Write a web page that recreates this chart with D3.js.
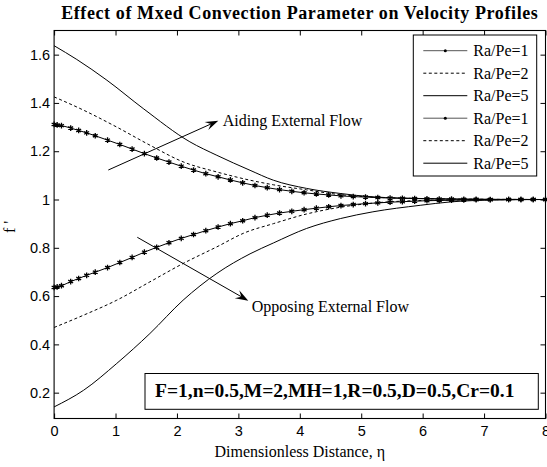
<!DOCTYPE html>
<html>
<head>
<meta charset="utf-8">
<script src="https://cdn.jsdelivr.net/npm/d3@7"></script>
<style>
  body { margin: 0; background: #fff; }
  svg { display: block; }
</style>
</head>
<body>
<svg id="chart" width="547" height="467"></svg>
<script>
// values
var etaMesh = [0, 0.05, 0.12, 0.27, 0.4, 0.53, 0.67, 0.87, 1.07, 1.27, 1.47, 1.67, 1.87, 2.07,
  2.27, 2.47, 2.67, 2.87, 3.07, 3.27, 3.47, 3.67, 3.87, 4.07, 4.27, 4.47, 4.67, 4.87, 5.07,
  5.27, 5.47, 5.67, 5.87, 6.07, 6.27, 6.47, 6.67, 6.87, 7.1, 7.4, 7.6, 7.8, 8.0];
var aidRa1 = [1.311, 1.309, 1.306, 1.296, 1.286, 1.276, 1.264, 1.246, 1.228, 1.209, 1.190, 1.172,
  1.155, 1.138, 1.122, 1.107, 1.094, 1.081, 1.069, 1.058, 1.049, 1.041, 1.034, 1.028, 1.023,
  1.019, 1.015, 1.012, 1.010, 1.008, 1.006, 1.005, 1.004, 1.003, 1.002, 1.002, 1.001, 1.001,
  1.000, 1.000, 1.000, 1.000, 1.000];
var oppRa1 = [0.636, 0.638, 0.643, 0.660, 0.673, 0.686, 0.699, 0.718, 0.739, 0.760, 0.782, 0.802,
  0.821, 0.839, 0.855, 0.871, 0.886, 0.900, 0.912, 0.925, 0.935, 0.944, 0.951, 0.958, 0.964,
  0.970, 0.975, 0.979, 0.983, 0.986, 0.989, 0.991, 0.993, 0.995, 0.996, 0.997, 0.998, 0.999,
  0.999, 1.000, 1.000, 1.000, 1.000];

var etaAidRa2 = [0, 0.48, 1.02, 1.56, 2.10, 2.65, 3.19, 3.57, 4.11, 4.66, 5.19, 6, 7, 8];
var aidRa2 = [1.425, 1.370, 1.300, 1.225, 1.156, 1.114, 1.080, 1.061, 1.040, 1.020, 1.010, 1.004, 1.001, 1.0];
var etaAidRa5 = [0, 0.37, 0.86, 1.45, 2.21, 2.65, 3.19, 3.57, 4.11, 4.66, 5.19, 6, 7, 8];
var aidRa5 = [1.637, 1.580, 1.494, 1.377, 1.239, 1.183, 1.121, 1.080, 1.046, 1.025, 1.011, 1.004, 1.001, 1.0];

var etaOppRa2 = [0, 0.48, 1.02, 1.56, 2.10, 2.65, 3.10, 3.57, 4.11, 4.66, 5.19, 6, 7, 8];
var oppRa2 = [0.470, 0.521, 0.583, 0.659, 0.735, 0.804, 0.862, 0.900, 0.940, 0.968, 0.985, 0.996, 0.999, 1.0];
var etaOppRa5 = [0, 0.48, 1.02, 1.56, 2.10, 2.65, 3.19, 3.57, 4.11, 4.66, 5.19, 5.96, 6.45, 7.2, 8];
var oppRa5 = [0.141, 0.210, 0.321, 0.445, 0.583, 0.694, 0.775, 0.820, 0.880, 0.921, 0.949, 0.976, 0.990, 0.998, 1.0];

var xTicks = [0, 1, 2, 3, 4, 5, 6, 7, 8];
var yTicks = [0.2, 0.4, 0.6, 0.8, 1, 1.2, 1.4, 1.6];
var legendLabels = ["Ra/Pe=1", "Ra/Pe=2", "Ra/Pe=5", "Ra/Pe=1", "Ra/Pe=2", "Ra/Pe=5"];

var titleText = "Effect of Mxed Convection Parameter on Velocity Profiles";
var xLabel = "Dimensionless Distance, \u03b7";
var yLabel = "f '";
var paramText = "F=1,n=0.5,M=2,MH=1,R=0.5,D=0.5,Cr=0.1";

var sans = "'Liberation Sans', Arial, sans-serif";
var serif = "'Liberation Serif', 'Times New Roman', serif";

var svg = d3.select("#chart");

var plot = {left: 54.1, right: 545.5, top: 30.5, bottom: 418.5};

var x = d3.scaleLinear().domain([0, 8]).range([plot.left, plot.right]);
var y = d3.scaleLinear().domain([0.093, 1.7]).range([plot.bottom, plot.top]);

// series table built from the arrays above
var series = [
  {eta: etaMesh, f: aidRa1, dash: null, marker: true},
  {eta: etaAidRa2, f: aidRa2, dash: "3,2.5", marker: false},
  {eta: etaAidRa5, f: aidRa5, dash: null, marker: false},
  {eta: etaMesh, f: oppRa1, dash: null, marker: true},
  {eta: etaOppRa2, f: oppRa2, dash: "3,2.5", marker: false},
  {eta: etaOppRa5, f: oppRa5, dash: null, marker: false}
];

// axes: ticks inside on all four sides
svg.append("g")
  .attr("transform", "translate(0," + plot.bottom + ")")
  .call(d3.axisBottom(x).tickValues(xTicks).tickSize(-5).tickPadding(7.5).tickFormat(d3.format("d")))
  .call(function(g) { g.select(".domain").remove(); })
  .selectAll("text").attr("font-family", sans).attr("font-size", "14.5px").attr("fill", "#000");

svg.append("g")
  .attr("transform", "translate(" + plot.left + ",0)")
  .call(d3.axisLeft(y).tickValues(yTicks).tickSize(-5).tickPadding(4).tickFormat(function(d) { return d3.format("")(+d.toFixed(1)); }))
  .call(function(g) { g.select(".domain").remove(); })
  .selectAll("text").attr("font-family", sans).attr("font-size", "14.5px").attr("fill", "#000");

svg.append("g")
  .attr("transform", "translate(0," + plot.top + ")")
  .call(d3.axisTop(x).tickValues(xTicks).tickSize(-5).tickFormat(""))
  .call(function(g) { g.select(".domain").remove(); });

svg.append("g")
  .attr("transform", "translate(" + plot.right + ",0)")
  .call(d3.axisRight(y).tickValues(yTicks).tickSize(-5).tickFormat(""))
  .call(function(g) { g.select(".domain").remove(); });

svg.selectAll(".tick line").attr("stroke", "#000").attr("stroke-width", 1);

// plot box
svg.append("rect")
  .attr("x", plot.left).attr("y", plot.top)
  .attr("width", plot.right - plot.left).attr("height", plot.bottom - plot.top)
  .attr("fill", "none").attr("stroke", "#000").attr("stroke-width", 1.1);

// curves
var line = d3.line()
  .x(function(d) { return x(d[0]); })
  .y(function(d) { return y(d[1]); })
  .curve(d3.curveMonotoneX);

var star = d3.symbol().type(d3.symbolAsterisk).size(22);

series.forEach(function(s) {
  var pts = s.eta.map(function(e, i) { return [e, s.f[i]]; });
  svg.append("path")
    .datum(pts)
    .attr("d", line)
    .attr("fill", "none")
    .attr("stroke", "#000")
    .attr("stroke-width", 1)
    .attr("stroke-dasharray", s.dash);
  if (s.marker) {
    svg.append("g").selectAll("path")
      .data(pts)
      .enter()
      .append("path")
      .attr("d", star)
      .attr("transform", function(d) { return "translate(" + x(d[0]) + "," + y(d[1]) + ")"; })
      .attr("fill", "none")
      .attr("stroke", "#000")
      .attr("stroke-width", 1.3);
  }
});

// annotation arrows
function arrow(x1, y1, x2, y2) {
  var dx = x2 - x1, dy = y2 - y1, len = Math.sqrt(dx * dx + dy * dy);
  var ux = dx / len, uy = dy / len, nx = -uy, ny = ux;
  var L = 13, W = 4.5;
  svg.append("line")
    .attr("x1", x1).attr("y1", y1).attr("x2", x2 - ux * 6).attr("y2", y2 - uy * 6)
    .attr("stroke", "#000").attr("stroke-width", 1);
  var p = [
    [x2, y2],
    [x2 - ux * L + nx * W, y2 - uy * L + ny * W],
    [x2 - ux * L * 0.62, y2 - uy * L * 0.62],
    [x2 - ux * L - nx * W, y2 - uy * L - ny * W]
  ];
  svg.append("path")
    .attr("d", "M" + p.map(function(q) { return q.join(","); }).join("L") + "Z")
    .attr("fill", "#000");
}

arrow(108.3, 170, 218.3, 120.7);
arrow(137.3, 237.3, 248.3, 300.7);

svg.append("text")
  .attr("x", 222.7).attr("y", 125.5)
  .attr("font-family", serif).attr("font-size", "16px")
  .text("Aiding External Flow");

svg.append("text")
  .attr("x", 251.7).attr("y", 312)
  .attr("font-family", serif).attr("font-size", "16px")
  .text("Opposing External Flow");

// legend
var legend = svg.append("g");
legend.append("rect")
  .attr("x", 413.3).attr("y", 35).attr("width", 123.4).attr("height", 141)
  .attr("fill", "#fff").attr("stroke", "#000").attr("stroke-width", 1);

legendLabels.forEach(function(lbl, i) {
  var s = series[i];
  var ly = 50.7 + i * 22.5;
  legend.append("line")
    .attr("x1", 423.3).attr("x2", 467.3).attr("y1", ly).attr("y2", ly)
    .attr("stroke", s.marker ? "#555" : "#000").attr("stroke-width", 1)
    .attr("stroke-dasharray", s.dash);
  if (s.marker) {
    legend.append("circle").attr("cx", 445.3).attr("cy", ly).attr("r", 1.5).attr("fill", "#000");
  }
  legend.append("text")
    .attr("x", 473.3).attr("y", ly + 5.5)
    .attr("font-family", serif).attr("font-size", "16px")
    .text(lbl);
});

// parameter box
svg.append("rect")
  .attr("x", 145).attr("y", 373.5).attr("width", 393.3).attr("height", 35.8)
  .attr("fill", "#fff").attr("stroke", "#000").attr("stroke-width", 1);
svg.append("text")
  .attr("x", 155).attr("y", 397)
  .attr("font-family", serif).attr("font-size", "19.5px").attr("font-weight", "bold")
  .text(paramText);

// titles
svg.append("text")
  .attr("x", (plot.left + plot.right) / 2).attr("y", 18.5)
  .attr("text-anchor", "middle")
  .attr("font-family", serif).attr("font-size", "18px").attr("font-weight", "bold")
  .attr("letter-spacing", "0.6px")
  .text(titleText);

svg.append("text")
  .attr("x", (plot.left + plot.right) / 2).attr("y", 457)
  .attr("text-anchor", "middle")
  .attr("font-family", serif).attr("font-size", "16px")
  .text(xLabel);

svg.append("text")
  .attr("transform", "translate(15,227) rotate(-90)")
  .attr("text-anchor", "middle")
  .attr("font-family", serif).attr("font-size", "16px")
  .text(yLabel);
</script>
</body>
</html>
